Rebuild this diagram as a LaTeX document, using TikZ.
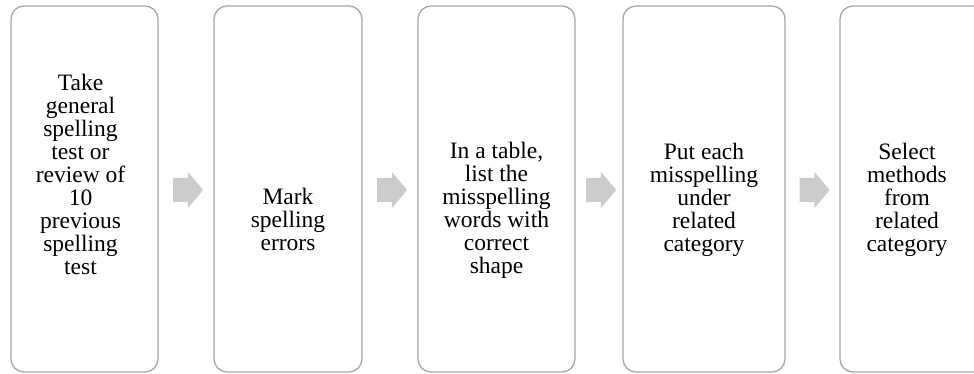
\documentclass[tikz,border=0pt]{standalone}
\usepackage{fontspec}
\setmainfont{Liberation Serif}
\usetikzlibrary{shapes.arrows, positioning, calc}
\definecolor{boxline}{HTML}{A6A6A6}
\definecolor{arrowgray}{HTML}{CCCCCC}
\tikzstyle{stagebox} = [rectangle, draw=boxline, line width=1.3pt, rounded corners=13pt, minimum height=366pt, inner sep=0pt]
\tikzstyle{stagetext} = [align=center, font=\fontsize{23.5}{23}\selectfont, inner sep=0pt]
\tikzstyle{arr} = [single arrow, fill=arrowgray, draw=none, minimum height=30pt, single arrow head extend=6pt, single arrow tip angle=100, inner xsep=0pt, inner ysep=12pt]

\begin{document}
\begin{tikzpicture}[x=1pt, y=-1pt]
	\clip (0,0) rectangle (974,374);
	
	\node [stagebox, minimum width=147pt] (s1) at (84.5,189) {};
	\node [stagebox, minimum width=148pt, right of=s1, node distance=203.5pt] (s2) {};
	\node [stagebox, minimum width=157pt, right of=s2, node distance=208.5pt] (s3) {};
	\node [stagebox, minimum width=162pt, right of=s3, node distance=207.5pt] (s4) {};
	\node [stagebox, minimum width=162pt, right of=s4, node distance=217pt] (s5) {};
	
	\node [stagetext] (t1) at ([xshift=-4pt, yshift=15pt]s1.center) {Take\\general\\spelling\\test or\\review of\\10\\previous\\spelling\\test};
	\node [stagetext] (t2) at ([yshift=-30pt]s2.center) {Mark\\spelling\\errors};
	\node [stagetext] (t3) at ([yshift=-21pt]s3.center) {In a table,\\list the\\misspelling\\words with\\correct\\shape};
	\node [stagetext] (t4) at ([yshift=-11pt]s4.center) {Put each\\misspelling\\under\\related\\category};
	\node [stagetext] (t5) at ([xshift=-14pt, yshift=-11pt]s5.center) {Select\\methods\\from\\related\\category};
	
	\node [arr] (a1) at ([xshift=-3pt, yshift=-1pt]$(s1.east)!0.5!(s2.west)$) {};
	\node [arr] (a2) at ([xshift=-3pt, yshift=-1pt]$(s2.east)!0.5!(s3.west)$) {};
	\node [arr] (a3) at ([xshift=-3pt, yshift=-1pt]$(s3.east)!0.5!(s4.west)$) {};
	\node [arr] (a4) at ([xshift=-3pt, yshift=-1pt]$(s4.east)!0.5!(s5.west)$) {};
	
\end{tikzpicture}
\end{document}
